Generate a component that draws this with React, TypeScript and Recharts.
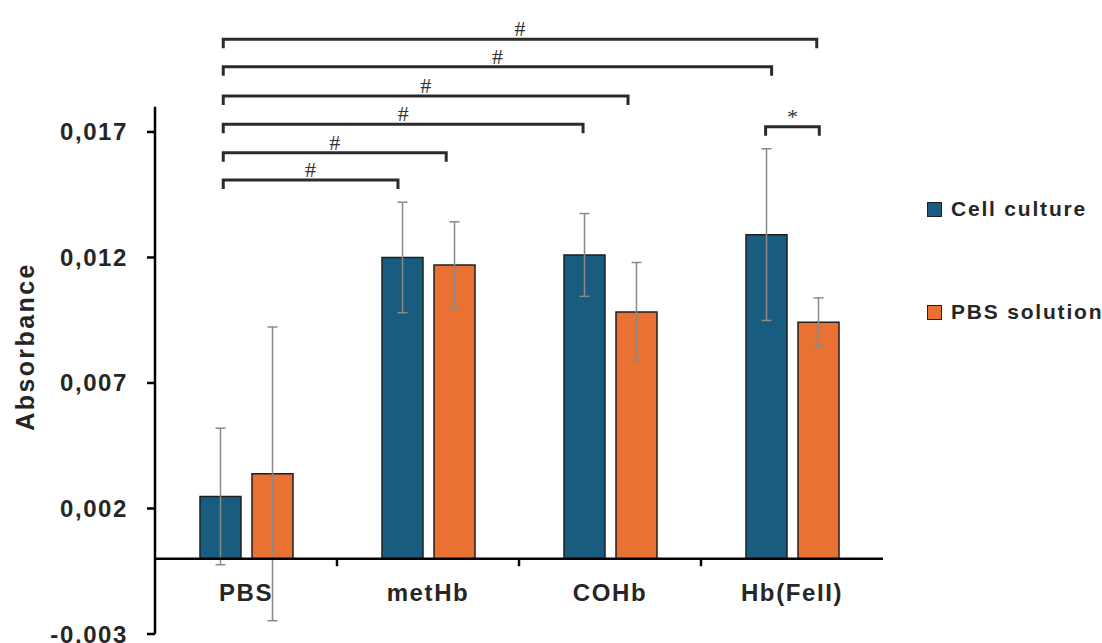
import React from 'react';
import { BarChart, Bar, XAxis, YAxis, ErrorBar, ReferenceLine, Legend } from 'recharts';

const categories = ['PBS', 'metHb', 'COHb', 'Hb(FeII)'];
const categoryPos = [0.5, 1.5, 2.5, 3.5];
const cellCulture = [0.00248, 0.012, 0.0121, 0.01291];
const cellCultureErr = [0.00272, 0.0022, 0.00165, 0.00342];
const pbsSolution = [0.00338, 0.0117, 0.00983, 0.00942];
const pbsSolutionErr = [0.00585, 0.00172, 0.00197, 0.00097];
const yTicks = [-0.003, 0.002, 0.007, 0.012, 0.017];

// significance brackets (x in category units, y in absorbance)
const bracketFrom = [0.375, 0.375, 0.375, 0.375, 0.375, 0.375, 3.355];
const bracketTo = [3.636, 3.388, 2.599, 2.352, 1.6, 1.335, 3.65];
const bracketLevel = [0.02069, 0.0196, 0.01843, 0.01731, 0.01617, 0.01509, 0.01721];
const bracketMark = ['#', '#', '#', '#', '#', '#', '*'];

const BLUE = '#185d80';
const ORANGE = '#e97132';
const TEXT = '#262626';
const FONT = '"Liberation Sans", Arial, sans-serif';

const data = categories.map((name, i) => ({
  name,
  pos: categoryPos[i],
  cell: cellCulture[i],
  cellErr: cellCultureErr[i],
  pbs: pbsSolution[i],
  pbsErr: pbsSolutionErr[i],
}));

const fmt = (v: number) => v.toFixed(3).replace('.', ',');

const CatTick = (props: any) => {
  const { x, y, payload } = props;
  return (
    <text x={x} y={y - 50} textAnchor="middle" dominantBaseline="central"
      fill={TEXT} fontSize={24} fontWeight={700} fontFamily={FONT} letterSpacing={1.6}>
      {payload.value}
    </text>
  );
};

const bracketShape = (p: any) => (
  <path d={`M${p.x1},${p.y1 + 9}V${p.y1}H${p.x2}V${p.y2 + 9}`}
    fill="none" stroke="#2b2b2b" strokeWidth={3} />
);

const LegendBox = (props: any) => {
  const items = props.payload || [];
  return (
    <div style={{ fontFamily: FONT }}>
      {items.map((it: any, i: number) => (
        <div key={i} style={{ display: 'flex', alignItems: 'center', height: 30, marginBottom: i === 0 ? 73 : 0 }}>
          <span style={{ width: 13, height: 13, background: it.color, border: '1.5px solid #222', display: 'inline-block', marginRight: 9 }} />
          <span style={{ fontSize: 21, fontWeight: 700, color: TEXT, letterSpacing: 1.8 }}>{it.value}</span>
        </div>
      ))}
    </div>
  );
};

export default function App() {
  return (
    <div style={{ position: 'absolute', left: 0, top: 0, background: '#fff' }}>
      <BarChart width={1102} height={643} data={data}
        margin={{ top: 19, right: 219, bottom: 8, left: 0 }}
        barSize={41} barGap={11}>
        <XAxis xAxisId="cat" dataKey="name" height={1} axisLine={false} tickLine={false}
          tickSize={6} tickMargin={2} tick={<CatTick />} interval={0} />
        <XAxis xAxisId="num" type="number" dataKey="pos" domain={[0, 4]} allowDataOverflow hide />
        <YAxis width={155} domain={[-0.003, 0.0215]} ticks={yTicks} allowDataOverflow interval={0}
          axisLine={false} tickLine={{ stroke: '#000', strokeWidth: 2.5 }} tickSize={8} tickMargin={19}
          tickFormatter={fmt}
          tick={{ fill: TEXT, fontSize: 24, fontWeight: 700, fontFamily: FONT, letterSpacing: 1.6 }}
          label={{
            content: (p: any) => {
              const vb = p.viewBox;
              const cx = vb.x + 25;
              const cy = vb.y + vb.height / 2 + 20;
              return (
                <text x={cx} y={cy} transform={`rotate(-90, ${cx}, ${cy})`} textAnchor="middle"
                  dominantBaseline="central" fill={TEXT} fontSize={25} fontWeight={700}
                  fontFamily={FONT} letterSpacing={2.4}>Absorbance</text>
              );
            },
          }} />
        <Legend layout="vertical" align="center" verticalAlign="middle" content={<LegendBox />}
          wrapperStyle={{ left: 927, top: 194, width: 180 }} />
        <Bar xAxisId="cat" dataKey="cell" name="Cell culture" fill={BLUE} stroke="#1f1f1f" strokeWidth={1.5} isAnimationActive={false}>
          <ErrorBar dataKey="cellErr" width={5} stroke="#8a8a8a" strokeWidth={1.5} />
        </Bar>
        <Bar xAxisId="cat" dataKey="pbs" name="PBS solution" fill={ORANGE} stroke="#1f1f1f" strokeWidth={1.5} isAnimationActive={false}>
          <ErrorBar dataKey="pbsErr" width={5} stroke="#8a8a8a" strokeWidth={1.5} />
        </Bar>
        {/* axes drawn at zero and with a shorter y line */}
        <ReferenceLine xAxisId="num" segment={[{ x: 0, y: -0.003 }, { x: 0, y: 0.018 }]} stroke="#000" strokeWidth={2.5} />
        <ReferenceLine xAxisId="num" y={0} stroke="#000" strokeWidth={2.5} />
        {[1, 2, 3].map(k => (
          <ReferenceLine key={'t' + k} xAxisId="num" segment={[{ x: k, y: 0 }, { x: k, y: -0.0003 }]} stroke="#000" strokeWidth={2.5} />
        ))}
        {bracketLevel.map((lv, i) => (
          <ReferenceLine key={'b' + i} xAxisId="num"
            segment={[{ x: bracketFrom[i], y: lv }, { x: bracketTo[i], y: lv }]}
            shape={bracketShape}
            label={{ value: bracketMark[i], position: 'top', offset: 3, fill: '#333', fontSize: 22, fontFamily: '"Liberation Serif", serif' }} />
        ))}
      </BarChart>
    </div>
  );
}
